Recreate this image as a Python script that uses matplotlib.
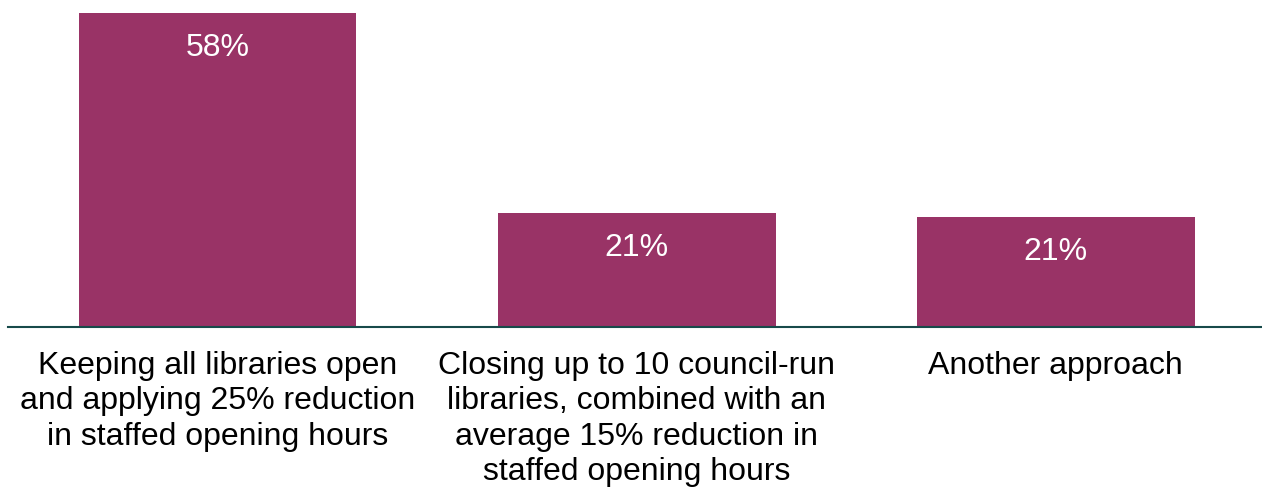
import matplotlib.pyplot as plt

plt.rcParams['font.family'] = ['Liberation Sans', 'DejaVu Sans']

# data
categories = ['Keeping all libraries open\nand applying 25% reduction\nin staffed opening hours',
              'Closing up to 10 council-run\nlibraries, combined with an\naverage 15% reduction in\nstaffed opening hours',
              'Another approach']
values = [58, 21, 20.3]
value_labels = ['58%', '21%', '21%']

bar_color = '#993366'
axis_color = '#174a4a'

W, H = 1262, 488
fig = plt.figure(figsize=(W / 100, H / 100), dpi=100)
ax = fig.add_axes([8 / W, (H - 326.5) / H, 1254 / W, 313.5 / H])

x = list(range(len(values)))
bars = ax.bar(x, values, width=0.663, color=bar_color)

ax.set_xlim(-0.5, 2.492)
ax.set_ylim(0, 58)

for rect, lab in zip(bars, value_labels):
    ax.annotate(lab, (rect.get_x() + rect.get_width() / 2, rect.get_height()),
                xytext=(0, -14.5), textcoords='offset points',
                ha='center', va='top', color='white', fontsize=23)

ax.set_xticks(x)
ax.set_xticklabels(categories, fontsize=23, linespacing=1.24)
ax.tick_params(axis='x', length=0, pad=17.5)
ax.set_yticks([])

for s in ['top', 'right', 'left']:
    ax.spines[s].set_visible(False)
ax.spines['bottom'].set_color(axis_color)
ax.spines['bottom'].set_linewidth(1.5)

fig.savefig('out.png', dpi=100)
